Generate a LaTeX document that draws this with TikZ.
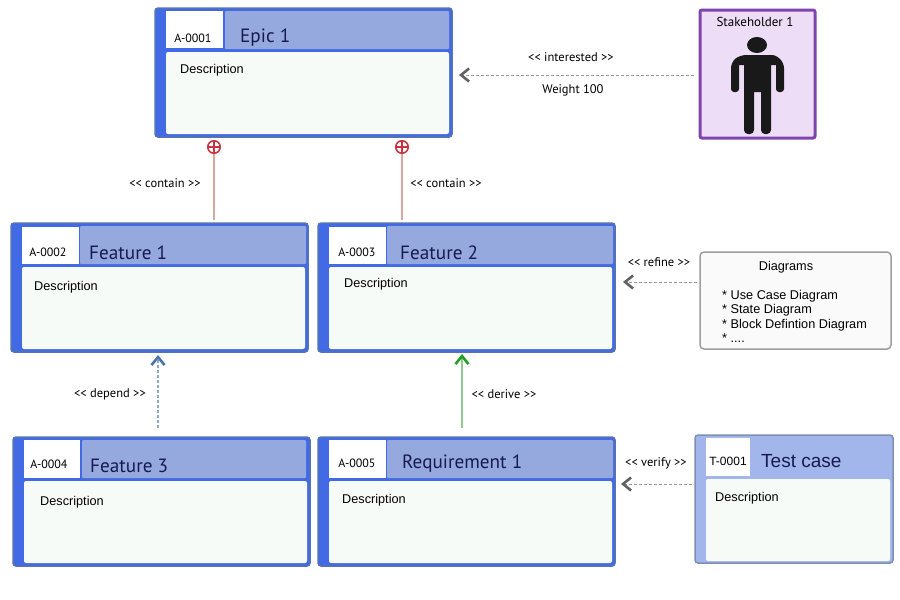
\documentclass[tikz,border=0pt]{standalone}
\usepackage{fontspec}
\usepackage{tikz}
\usepackage{xcolor}
\usetikzlibrary{arrows.meta}
\setmainfont{Liberation Sans}
\newfontfamily\uifont{PT Sans}
\definecolor{cardblue}{HTML}{416AE4}
\definecolor{cardedge}{HTML}{5673B4}
\definecolor{headblue}{HTML}{95A9DE}
\definecolor{testblue}{HTML}{A3B6EC}
\definecolor{testedge}{HTML}{7E8FB4}
\definecolor{bodytint}{HTML}{F7FBF8}
\definecolor{titleink}{HTML}{161A50}
\definecolor{stakeedge}{HTML}{7F44AE}
\definecolor{stakefill}{HTML}{EEDDF6}
\definecolor{plusred}{HTML}{C9323F}
\definecolor{containline}{HTML}{D6A8A0}
\definecolor{dependline}{HTML}{8FA8C8}
\definecolor{dependtip}{HTML}{4A73A8}
\definecolor{deriveline}{HTML}{90CC90}
\definecolor{derivetip}{HTML}{1FA01F}
\tikzset{
  box/.style={anchor=north west, inner sep=0pt, outer sep=0pt},
  cardframe/.style={box, fill=cardblue, draw=cardedge, line width=1.5pt, rounded corners=3pt},
  idcell/.style={box, fill=white},
  headcell/.style={box, fill=headblue, rounded corners=1pt},
  bodycell/.style={box, fill=bodytint, rounded corners=2pt},
  idtext/.style={font=\uifont\fontsize{12}{14}\selectfont, text=black},
  titletext/.style={anchor=west, inner sep=0pt, yshift=-1.5pt, font=\uifont\fontsize{19.2}{21}\selectfont, text=titleink},
  desctext/.style={anchor=west, inner sep=0pt, yshift=-1pt, font=\fontsize{12.7}{15}\selectfont},
  reltext/.style={inner sep=0pt, font=\uifont\fontsize{12.5}{14}\selectfont},
  plus/.style={circle, draw=plusred, line width=1.5pt, minimum size=12.5pt, inner sep=0pt,
    path picture={\draw[plusred, line width=1.2pt] (path picture bounding box.north) -- (path picture bounding box.south)
      (path picture bounding box.west) -- (path picture bounding box.east);}},
  greyline/.style={densely dashed, draw=black!40, line width=1pt, -{Straight Barb[length=8pt, width=13pt, line width=2.6pt, color=black!62]}},
}
\begin{document}
\begin{tikzpicture}[x=1pt, y=-1pt]
    \useasboundingbox (0, 0) rectangle (900, 600);
    % epic
    \node[cardframe, minimum width=297pt, minimum height=129pt] (epic) at (155, 8) {};
    \node[idcell, minimum width=57pt, minimum height=37pt] (epicid) at (166, 11) {};
    \node[headcell, minimum width=224pt, minimum height=38pt] (epichead) at (225, 11) {};
    \node[bodycell, minimum width=283pt, minimum height=82pt] (epicbody) at (166, 52) {};
    \node[idtext] (epicno) at (193, 38) {A-0001};
    \node[titletext] (epicname) at (240, 36) {Epic 1};
    \node[desctext] (epicdesc) at (180, 69.5) {Description};
    % feature 1
    \node[cardframe, minimum width=297pt, minimum height=129pt] (feat1) at (11, 223) {};
    \node[idcell, minimum width=57pt, minimum height=37pt] (feat1id) at (22, 227) {};
    \node[headcell, minimum width=226pt, minimum height=38pt] (feat1head) at (80, 226) {};
    \node[bodycell, minimum width=283pt, minimum height=82pt] (feat1body) at (22, 267) {};
    \node[idtext] (feat1no) at (48, 252) {A-0002};
    \node[titletext] (feat1name) at (89, 251) {Feature 1};
    \node[desctext] (feat1desc) at (34, 286.5) {Description};
    % feature 2
    \node[cardframe, minimum width=297pt, minimum height=129pt] (feat2) at (318, 223) {};
    \node[idcell, minimum width=57pt, minimum height=37pt] (feat2id) at (329, 227) {};
    \node[headcell, minimum width=226pt, minimum height=38pt] (feat2head) at (387, 226) {};
    \node[bodycell, minimum width=283pt, minimum height=82pt] (feat2body) at (329, 267) {};
    \node[idtext] (feat2no) at (357, 252) {A-0003};
    \node[titletext] (feat2name) at (400, 251) {Feature 2};
    \node[desctext] (feat2desc) at (344, 283.5) {Description};
    % feature 3
    \node[cardframe, minimum width=297pt, minimum height=129pt] (feat3) at (13, 437) {};
    \node[idcell, minimum width=56pt, minimum height=38pt] (feat3id) at (24, 440) {};
    \node[headcell, minimum width=224pt, minimum height=38pt] (feat3head) at (82, 440) {};
    \node[bodycell, minimum width=283pt, minimum height=82pt] (feat3body) at (24, 481) {};
    \node[idtext] (feat3no) at (49, 464) {A-0004};
    \node[titletext] (feat3name) at (90, 464) {Feature 3};
    \node[desctext] (feat3desc) at (40, 501.5) {Description};
    % requirement
    \node[cardframe, minimum width=297pt, minimum height=129pt] (req) at (318, 437) {};
    \node[idcell, minimum width=57pt, minimum height=38pt] (reqid) at (329, 440) {};
    \node[headcell, minimum width=226pt, minimum height=38pt] (reqhead) at (387, 440) {};
    \node[bodycell, minimum width=283pt, minimum height=82pt] (reqbody) at (329, 481) {};
    \node[idtext] (reqno) at (357, 463) {A-0005};
    \node[titletext] (reqname) at (402, 462) {Requirement 1};
    \node[desctext] (reqdesc) at (342, 499.5) {Description};
    % test case
    \node[cardframe, fill=testblue, draw=testedge, minimum width=198pt, minimum height=128pt] (test) at (695, 435) {};
    \node[idcell, minimum width=44pt, minimum height=38pt] (testid) at (706, 438) {};
    \node[bodycell, minimum width=184pt, minimum height=82pt] (testbody) at (706, 479) {};
    \node[idtext, font=\fontsize{12}{14}\selectfont] (testno) at (728, 461) {T-0001};
    \node[titletext, font=\fontsize{19}{21}\selectfont] (testname) at (761, 460) {Test case};
    \node[desctext] (testdesc) at (715, 497.5) {Description};
    % stakeholder
    \node[box, fill=stakefill, draw=stakeedge, line width=3pt, rounded corners=2pt, minimum width=115pt, minimum height=128pt] (stake) at (700, 10) {};
    \node[idtext, font=\uifont\fontsize{13}{15}\selectfont] (stakename) at (755, 22) {Stakeholder 1};
    \fill[black!90] (757, 45) ellipse (10 and 8);
    \fill[black!90, rounded corners=3pt] (740, 55) -- (775, 55) [rounded corners=6pt] -- (784, 62) [rounded corners=3pt] -- (784, 92) -- (776, 92) [sharp corners] -- (776, 65) -- (771, 65) [rounded corners=4pt] -- (771, 134) -- (761, 134) [sharp corners] -- (761, 92) -- (754, 92) [rounded corners=4pt] -- (754, 134) -- (744, 134) [sharp corners] -- (744, 65) -- (739, 65) [rounded corners=3pt] -- (739, 92) -- (731, 92) [rounded corners=6pt] -- (731, 62) -- cycle;
    % diagrams
    \node[box, fill=black!2, draw=black!38, line width=1.5pt, rounded corners=4pt, minimum width=191pt, minimum height=97pt] (diag) at (700, 252) {};
    \node[desctext, anchor=center] (diagname) at (786, 266) {Diagrams};
    \node[desctext, anchor=north west, align=left, font=\fontsize{12.7}{14.5}\selectfont] (diaglist) at (722, 289) {* Use Case Diagram\\* State Diagram\\* Block Defintion Diagram\\* ....};
    % relations
    \node[plus] (plus1) at (214, 147) {};
    \node[plus] (plus2) at (402, 147) {};
    \coordinate (intpt) at (600, 75);
    \coordinate (refpt) at (660, 282);
    \coordinate (verpt) at (660, 484);
    \coordinate (deppt) at (158, 390);
    \coordinate (derpt) at (462, 390);
    \draw[draw=containline, line width=1.3pt, shorten >=3pt] (plus1.south) -- (plus1.south |- feat1.north);
    \draw[draw=containline, line width=1.3pt, shorten >=3pt] (plus2.south) -- (plus2.south |- feat2.north);
    \draw[greyline, shorten <=6pt, shorten >=7pt] (stake.west |- intpt) -- (epic.east |- intpt);
    \draw[greyline, shorten <=3pt, shorten >=8pt] (diag.west |- refpt) -- (feat2.east |- refpt);
    \draw[greyline, shorten <=3pt, shorten >=6pt] (test.west |- verpt) -- (req.east |- verpt);
    \draw[densely dashed, draw=dependline, line width=1.5pt, shorten <=9pt, shorten >=3pt, -{Straight Barb[length=8pt, width=13pt, line width=2.6pt, color=dependtip]}] (deppt |- feat3.north) -- (deppt |- feat1.south);
    \draw[draw=deriveline, line width=1.5pt, shorten <=9pt, shorten >=2pt, -{Straight Barb[length=8pt, width=13pt, line width=2.6pt, color=derivetip]}] (derpt |- req.north) -- (derpt |- feat2.south);
    \node[reltext] (contain1) at (165, 183) {<{}< contain >{}>};
    \node[reltext] (contain2) at (446, 183) {<{}< contain >{}>};
    \node[reltext] (interested) at (571, 57) {<{}< interested >{}>};
    \node[reltext] (weight) at (573, 90) {Weight 100};
    \node[reltext] (refine) at (659, 262) {<{}< refine >{}>};
    \node[reltext] (depend) at (110, 394) {<{}< depend >{}>};
    \node[reltext] (derive) at (504, 394) {<{}< derive >{}>};
    \node[reltext] (verify) at (656, 463) {<{}< verify >{}>};
\end{tikzpicture}
\end{document}
